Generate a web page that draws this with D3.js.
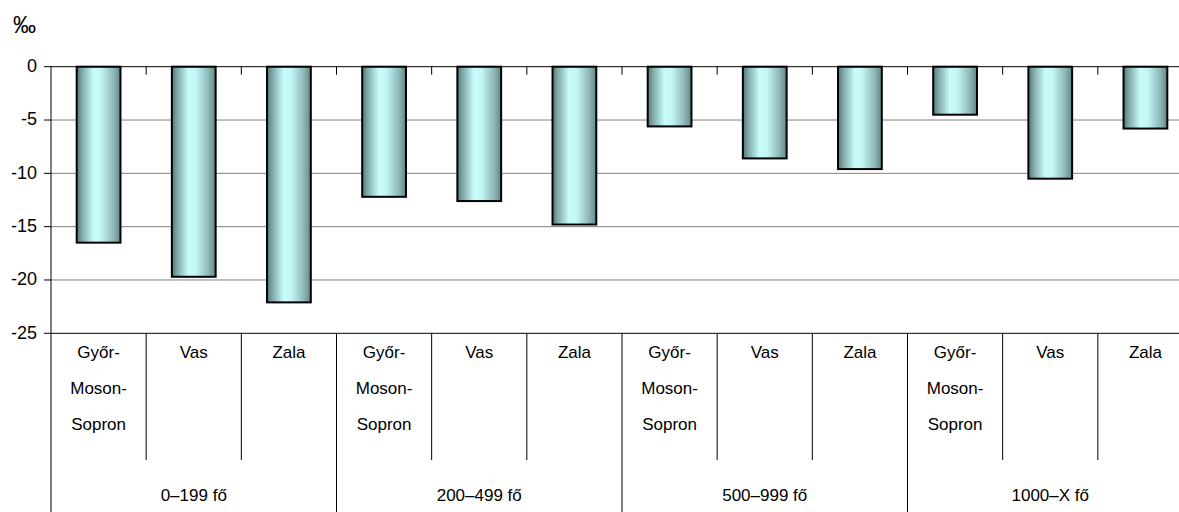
<!DOCTYPE html>
<html>
<head>
<meta charset="utf-8">
<script src="https://cdn.jsdelivr.net/npm/d3@7"></script>
<style>
body{margin:0;background:#fff;}
svg{display:block;font-family:"Liberation Sans",Arial,sans-serif;}
.gridLines{stroke:#808080;stroke-width:1;}
.axisLine{stroke:#000;stroke-width:1;}
.bars{stroke:#000;stroke-width:2;}
</style>
</head>
<body>
<script>
(function(){

//chart data
var groups = ["0–199 fő", "200–499 fő", "500–999 fő", "1000–X fő"];
var counties = [["Győr-", "Moson-", "Sopron"], ["Vas"], ["Zala"]];
var values = [-16.5, -19.7, -22.1, -12.2, -12.6, -14.8, -5.6, -8.6, -9.6, -4.5, -10.5, -5.8];
var yTicks = [0, -5, -10, -15, -20, -25];
var unitLabel = "‰";

//frame dimensions
var width = 1179,
    height = 512;

var left = 51, right = 1193, top = 66.7, bottom = 333.3;

var svg = d3.select("body")
    .append("svg")
    .attr("width", width)
    .attr("height", height);

//bar gradient
var grad = svg.append("defs").append("linearGradient")
    .attr("id", "barGrad")
    .attr("x1", "0%").attr("x2", "100%")
    .attr("y1", "0%").attr("y2", "0%");
[[0, "#4f7878"], [0.12, "#80a8a8"], [0.38, "#c8fbfb"], [0.55, "#c4f6f6"], [0.85, "#8db4b4"], [1, "#5f8787"]]
    .forEach(function(s){
        grad.append("stop").attr("offset", s[0]).attr("stop-color", s[1]);
    });

//scales
var y = d3.scaleLinear()
    .domain([0, -25])
    .range([top, bottom]);

var x = d3.scaleBand()
    .domain(d3.range(values.length))
    .range([left, right])
    .padding(0);

var step = x.step();
var barW = step * 0.46;

//gridlines
svg.selectAll(".gridLines")
    .data(yTicks.filter(function(d){ return d < 0 && d > -25; }))
    .enter()
    .append("line")
    .attr("class", "gridLines")
    .attr("x1", left).attr("x2", right)
    .attr("y1", function(d){ return y(d); })
    .attr("y2", function(d){ return y(d); });

//bars
svg.selectAll(".bars")
    .data(values)
    .enter()
    .append("rect")
    .attr("class", "bars")
    .attr("x", function(d, i){ return x(i) + (step - barW) / 2; })
    .attr("width", barW)
    .attr("y", y(0))
    .attr("height", function(d){ return y(d) - y(0); })
    .style("fill", "url(#barGrad)");

//zero axis with ticks pointing down
svg.append("line")
    .attr("class", "axisLine")
    .attr("x1", left).attr("x2", right)
    .attr("y1", y(0)).attr("y2", y(0));

svg.selectAll(".topTicks")
    .data(d3.range(1, values.length))
    .enter()
    .append("line")
    .attr("class", "axisLine")
    .attr("x1", function(d){ return x(d); })
    .attr("x2", function(d){ return x(d); })
    .attr("y1", y(0)).attr("y2", y(0) + 8);

//bottom line of plot
svg.append("line")
    .attr("class", "axisLine")
    .attr("x1", left).attr("x2", right)
    .attr("y1", y(-25)).attr("y2", y(-25));

//y axis
svg.append("line")
    .attr("class", "axisLine")
    .attr("x1", left).attr("x2", left)
    .attr("y1", y(0)).attr("y2", height);

svg.selectAll(".yTicks")
    .data(yTicks)
    .enter()
    .append("line")
    .attr("class", "axisLine")
    .attr("x1", left - 7).attr("x2", left)
    .attr("y1", function(d){ return y(d); })
    .attr("y2", function(d){ return y(d); });

svg.selectAll(".yLabels")
    .data(yTicks)
    .enter()
    .append("text")
    .attr("x", 37)
    .attr("y", function(d){ return y(d); })
    .attr("dy", "0.3em")
    .attr("text-anchor", "end")
    .style("font-size", "18px")
    .text(function(d){ return d; });

svg.append("text")
    .attr("x", 13)
    .attr("y", 33)
    .style("font-size", "23px")
    .text(unitLabel);

//category separators
svg.selectAll(".catSep")
    .data(d3.range(1, values.length))
    .enter()
    .append("line")
    .attr("class", "axisLine")
    .attr("x1", function(d){ return x(d); })
    .attr("x2", function(d){ return x(d); })
    .attr("y1", y(-25))
    .attr("y2", function(d){ return d % 3 === 0 ? height : 460; });

//county labels
values.forEach(function(v, i){
    var lines = counties[i % 3];
    var t = svg.append("text")
        .attr("text-anchor", "middle")
        .style("font-size", "17px");
    lines.forEach(function(l, k){
        t.append("tspan")
            .attr("x", x(i) + step / 2)
            .attr("y", 358 + k * 36)
            .text(l);
    });
});

//group labels
svg.selectAll(".groupLabels")
    .data(groups)
    .enter()
    .append("text")
    .attr("x", function(d, i){ return x(i * 3) + step * 1.5; })
    .attr("y", 501)
    .attr("text-anchor", "middle")
    .style("font-size", "17px")
    .text(function(d){ return d; });

})();
</script>
</body>
</html>
